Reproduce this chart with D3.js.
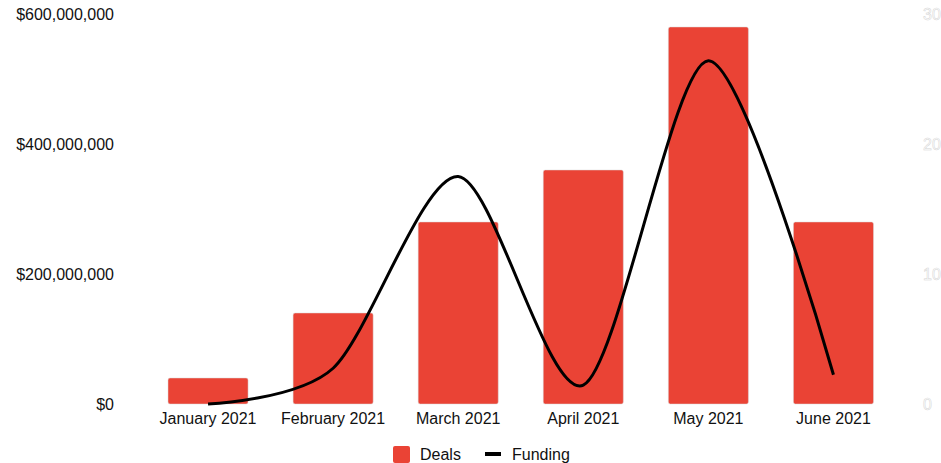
<!DOCTYPE html>
<html>
<head>
<meta charset="utf-8">
<script src="https://cdn.jsdelivr.net/npm/d3@7"></script>
<style>
body { margin: 0; background: #fff; }
text { font-family: "Liberation Sans", Arial, sans-serif; }
</style>
</head>
<body>
<div id="chart"></div>
<script>
var months = ["January 2021", "February 2021", "March 2021", "April 2021", "May 2021", "June 2021"];
var deals = [2, 7, 14, 18, 29, 14];
var funding = [0, 55000000, 350000000, 29000000, 528000000, 45000000];
var leftTicks = [0, 200000000, 400000000, 600000000];
var rightTicks = [0, 10, 20, 30];

var width = 941;
var height = 463;

var svg = d3.select("#chart").append("svg")
	.attr("width", width)
	.attr("height", height);

var x = d3.scaleBand()
	.domain(months)
	.range([145.5, 896])
	.paddingInner(0.36)
	.paddingOuter(0.18);

var yLeft = d3.scaleLinear().domain([0, 600000000]).range([404, 14]);
var yRight = d3.scaleLinear().domain([0, 30]).range([404, 14]);

var fmt = function(d){ return "$" + d3.format(",")(d); };

// left axis
var leftAxis = d3.axisLeft(yLeft).tickValues(leftTicks).tickFormat(fmt).tickSize(0).tickPadding(0);
var gl = svg.append("g").attr("transform", "translate(114,0)").call(leftAxis);
gl.select(".domain").remove();
gl.selectAll("text").style("font-size", "16px").attr("fill", "#111").attr("font-family", null);

// right axis (white labels, light outline)
var rightAxis = d3.axisRight(yRight).tickValues(rightTicks).tickSize(0).tickPadding(0);
var gr = svg.append("g").attr("transform", "translate(923,0)").call(rightAxis);
gr.select(".domain").remove();
gr.selectAll("text").style("font-size", "16px").attr("font-family", null)
	.attr("fill", "#fff").attr("stroke", "#d4d4d4").attr("stroke-width", 0.5);

// bars = deals (right scale)
svg.selectAll("rect.bar")
	.data(deals)
	.enter().append("rect")
	.attr("class", "bar")
	.attr("x", function(d, i){ return x(months[i]); })
	.attr("width", x.bandwidth())
	.attr("y", function(d){ return yRight(d); })
	.attr("height", function(d){ return yRight(0) - yRight(d); })
	.attr("rx", 2)
	.attr("fill", "#ea4335")
	.attr("stroke", "#d9d9d9")
	.attr("stroke-width", 0.5);

// month labels
var xAxis = d3.axisBottom(x).tickSize(0).tickPadding(9);
var gx = svg.append("g").attr("transform", "translate(0,404)").call(xAxis);
gx.select(".domain").remove();
gx.selectAll("text").style("font-size", "16px").attr("fill", "#111").attr("font-family", null);

// funding line (left scale)
var line = d3.line()
	.x(function(d, i){ return x(months[i]) + x.bandwidth() / 2; })
	.y(function(d){ return yLeft(d); })
	.curve(d3.curveCardinal.tension(0.16));

svg.append("path")
	.attr("d", line(funding))
	.attr("fill", "none")
	.attr("stroke", "#000")
	.attr("stroke-width", 3);

// legend
var legend = svg.append("g").attr("transform", "translate(0,454)");
legend.append("rect").attr("x", 393).attr("y", -8).attr("width", 17).attr("height", 17).attr("rx", 2).attr("fill", "#ea4335");
legend.append("text").attr("x", 420).attr("y", 0).attr("dy", "0.35em").style("font-size", "16px").attr("fill", "#111").text("Deals");
legend.append("line").attr("x1", 485).attr("x2", 501).attr("y1", 0).attr("y2", 0).attr("stroke", "#000").attr("stroke-width", 4);
legend.append("text").attr("x", 512).attr("y", 0).attr("dy", "0.35em").style("font-size", "16px").attr("fill", "#111").text("Funding");
</script>
</body>
</html>
